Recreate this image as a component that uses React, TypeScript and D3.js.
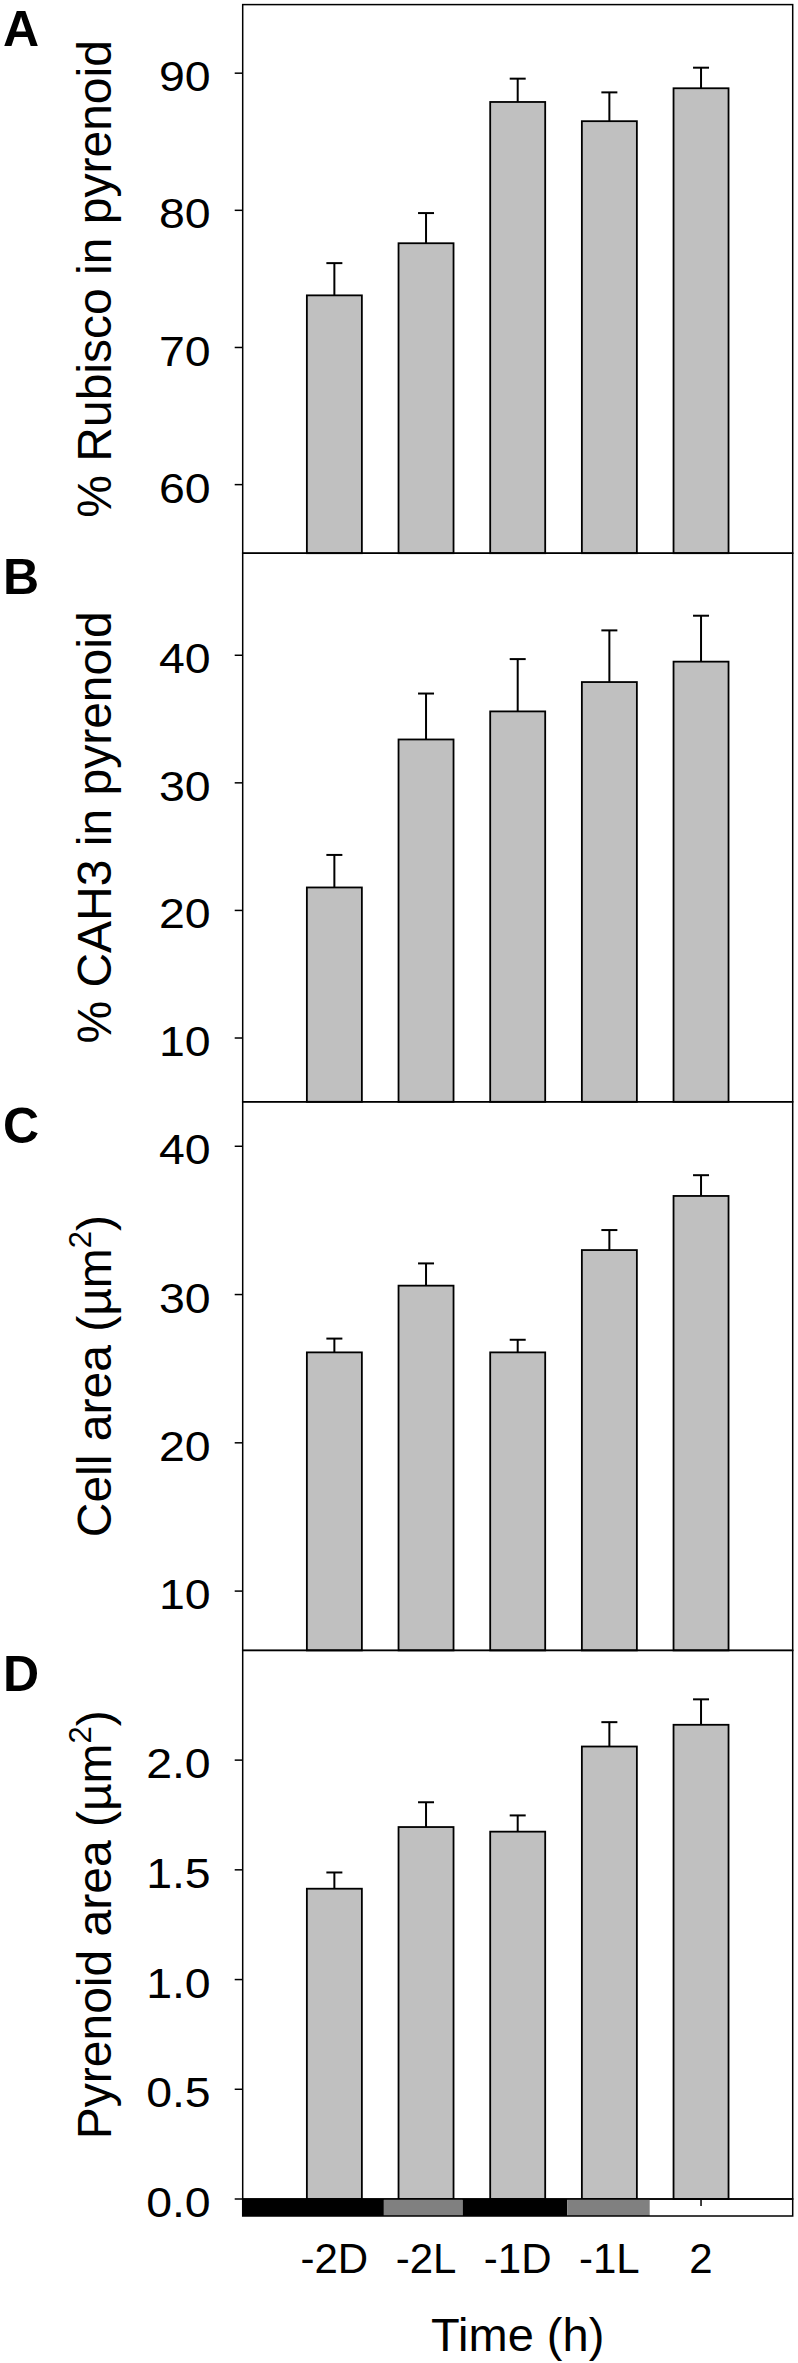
import React from "react";
import * as d3 from "d3";

// ---------------- data ----------------
const categories = ["-2D", "-2L", "-1D", "-1L", "2"];

const rubiscoPct = [73.8, 77.6, 87.9, 86.5, 88.9];
const rubiscoErr = [2.35, 2.2, 1.7, 2.1, 1.5];

const cah3Pct = [21.8, 33.4, 35.6, 37.9, 39.5];
const cah3Err = [2.55, 3.6, 4.1, 4.05, 3.6];

const cellArea = [26.1, 30.6, 26.1, 33.0, 36.65];
const cellAreaErr = [0.93, 1.5, 0.85, 1.35, 1.4];

const pyrenoidArea = [1.414, 1.695, 1.674, 2.062, 2.161];
const pyrenoidAreaErr = [0.074, 0.113, 0.074, 0.111, 0.116];

const rubiscoTicks = [60, 70, 80, 90];
const cah3Ticks = [10, 20, 30, 40];
const cellTicks = [10, 20, 30, 40];
const pyrenoidTicks = [0, 0.5, 1.0, 1.5, 2.0];

// light regime bar under the x axis (in category-slot units, 0..6)
const regimeStart = [0, 1.54, 2.4, 3.54, 4.44];
const regimeEnd = [1.54, 2.4, 3.54, 4.44, 6];
const regimeFill = ["#000000", "#808080", "#000000", "#808080", "none"];

const panels = [
  { letter: "A", label: "% Rubisco in pyrenoid", sup: "", values: rubiscoPct, errs: rubiscoErr, ticks: rubiscoTicks, domain: [55, 95], fmt: d3.format("d") },
  { letter: "B", label: "% CAH3 in pyrenoid", sup: "", values: cah3Pct, errs: cah3Err, ticks: cah3Ticks, domain: [5, 48], fmt: d3.format("d") },
  { letter: "C", label: "Cell area (\u00b5m", sup: "2", values: cellArea, errs: cellAreaErr, ticks: cellTicks, domain: [6, 43], fmt: d3.format("d") },
  { letter: "D", label: "Pyrenoid area (\u00b5m", sup: "2", values: pyrenoidArea, errs: pyrenoidAreaErr, ticks: pyrenoidTicks, domain: [0, 2.5], fmt: d3.format(".1f") },
];

// ---------------- layout ----------------
const W = 798;
const H = 2363;
const left = 242.7;
const right = 792.7;
const top0 = 4.6;
const panelH = 548.6;
const FONT = "'Liberation Sans', Arial, Helvetica, sans-serif";

export default function App() {
  const x = d3.scaleLinear().domain([0, categories.length + 1]).range([left, right]);
  const barW = (x(1) - x(0)) * 0.6;
  const capHalf = 8;
  const lastBottom = top0 + panelH * panels.length;

  return (
    <svg
      width={W}
      height={H}
      viewBox={`0 0 ${W} ${H}`}
      style={{ position: "absolute", left: 0, top: 0, background: "#fff" }}
      fontFamily={FONT}
    >
      <rect x={0} y={0} width={W} height={H} fill="#fff" />
      {panels.map((p, pi) => {
        const pTop = top0 + pi * panelH;
        const pBot = pTop + panelH;
        const y = d3.scaleLinear().domain(p.domain).range([pBot, pTop]);
        const midY = (pTop + pBot) / 2;
        return (
          <g key={p.letter}>
            {/* bars */}
            {p.values.map((v, i) => {
              const cx = x(i + 1);
              return (
                <g key={i}>
                  <line x1={cx} x2={cx} y1={y(v)} y2={y(v + p.errs[i])} stroke="#000" strokeWidth={2} />
                  <line x1={cx - capHalf} x2={cx + capHalf} y1={y(v + p.errs[i])} y2={y(v + p.errs[i])} stroke="#000" strokeWidth={2} />
                  <rect
                    x={cx - barW / 2}
                    y={y(v)}
                    width={barW}
                    height={pBot - y(v)}
                    fill="#c0c0c0"
                    stroke="#000"
                    strokeWidth={1.8}
                  />
                </g>
              );
            })}
            {/* frame */}
            <rect x={left} y={pTop} width={right - left} height={panelH} fill="none" stroke="#000" strokeWidth={1.5} />
            {/* y ticks */}
            {p.ticks.map((t) => (
              <g key={t}>
                <line x1={left - 8} x2={left} y1={y(t)} y2={y(t)} stroke="#000" strokeWidth={1.5} />
                <text
                  transform={`translate(${left - 32}, ${y(t)}) scale(1.08, 1)`}
                  dy="0.42em"
                  textAnchor="end"
                  fontSize={43}
                  fill="#000"
                >
                  {p.fmt(t)}
                </text>
              </g>
            ))}
            {/* y label */}
            <text
              transform={`translate(110.5, ${midY}) rotate(-90)`}
              textAnchor="middle"
              fontSize={48}
              fill="#000"
            >
              {p.label}
              {p.sup ? (
                <>
                  <tspan fontSize={31} dy={-20}>{p.sup}</tspan>
                  <tspan dy={20}>)</tspan>
                </>
              ) : null}
            </text>
            {/* panel letter */}
            <text x={3} y={pTop + 41} fontSize={50} fontWeight="bold" fill="#000">
              {p.letter}
            </text>
          </g>
        );
      })}

      {/* x ticks (bottom panel) */}
      {categories.map((c, i) => (
        <line key={c} x1={x(i + 1)} x2={x(i + 1)} y1={lastBottom} y2={lastBottom + 7} stroke="#000" strokeWidth={1.5} />
      ))}
      {/* light regime bar */}
      {regimeStart.map((s, i) => (
        <rect
          key={i}
          x={x(s)}
          y={lastBottom}
          width={x(regimeEnd[i]) - x(s)}
          height={17}
          fill={regimeFill[i]}
          stroke="none"
        />
      ))}
      <rect x={left} y={lastBottom} width={right - left} height={17} fill="none" stroke="#000" strokeWidth={1.5} />

      {/* x labels */}
      {categories.map((c, i) => (
        <text key={c} x={x(i + 1)} y={2273} textAnchor="middle" fontSize={42} fill="#000">
          {c}
        </text>
      ))}
      <text x={(left + right) / 2} y={2351} textAnchor="middle" fontSize={47} fill="#000">
        Time (h)
      </text>
    </svg>
  );
}
